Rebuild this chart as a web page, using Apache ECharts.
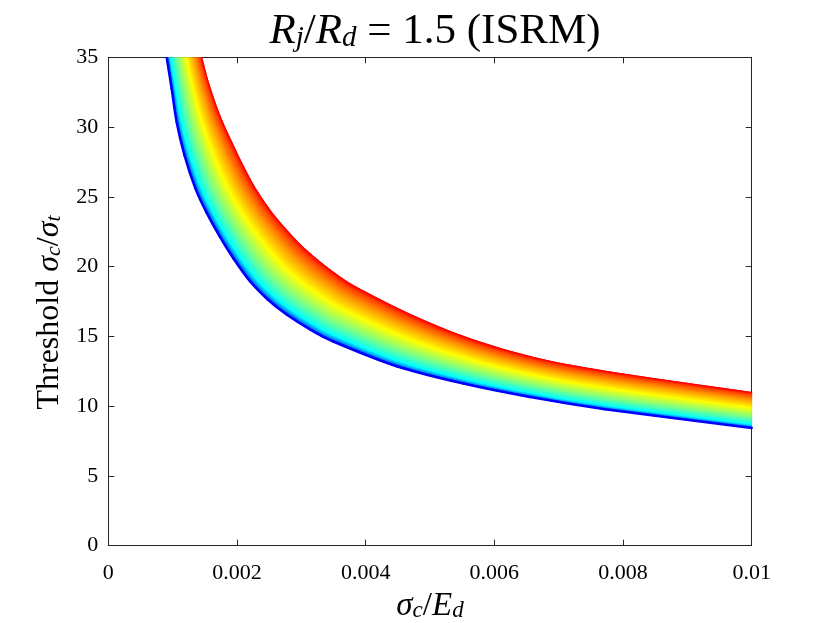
<!DOCTYPE html>
<html>
<head>
<meta charset="utf-8">
<script src="https://cdn.jsdelivr.net/npm/echarts@6/dist/echarts.min.js"></script>
<style>html,body{margin:0;padding:0;background:#fff}#c{width:830px;height:623px}</style>
</head>
<body>
<div id="c"></div>
<script>
// Lower (blue) edge of the family of curves
const lowerX = [0.000908, 0.000985, 0.001063, 0.001184, 0.001355, 0.001526, 0.001736, 0.001943, 0.002202, 0.002482, 0.002777, 0.003135, 0.003497, 0.004482, 0.005518, 0.006554, 0.00772, 0.01];
const lowerY = [35.0, 32.76, 30.36, 27.98, 25.59, 23.89, 22.13, 20.60, 18.95, 17.63, 16.55, 15.50, 14.63, 12.86, 11.62, 10.66, 9.78, 8.44];
// Upper (red) edge, points read across the band opposite the lower ones
const upperX = [0.001452, 0.001557, 0.001728, 0.001924, 0.0021, 0.002272, 0.002521, 0.002751, 0.002967, 0.003147, 0.003342, 0.003561, 0.003847, 0.004747, 0.00567, 0.006663, 0.0078, 0.01];
const upperY = [35.0, 33.17, 30.89, 28.85, 27.18, 25.71, 23.99, 22.72, 21.65, 20.89, 20.14, 19.39, 18.54, 16.46, 14.75, 13.43, 12.45, 10.98];

const xTickLabels = ['0', '0.002', '0.004', '0.006', '0.008', '0.01'];
const yTickLabels = ['0', '5', '10', '15', '20', '25', '30', '35'];

const F = 'Liberation Serif';
const AX = '#262626';
const stops = [
  {offset: 0.00, color: 'rgb(0,0,255)'},
  {offset: 0.035, color: 'rgb(0,128,255)'},
  {offset: 0.10, color: 'rgb(0,255,255)'},
  {offset: 0.31, color: 'rgb(128,255,128)'},
  {offset: 0.56, color: 'rgb(255,255,0)'},
  {offset: 0.79, color: 'rgb(255,150,0)'},
  {offset: 0.93, color: 'rgb(255,70,0)'},
  {offset: 1.00, color: 'rgb(255,0,0)'}
];
const SUB = 10; // drawing subdivisions per segment

const bandData = lowerX.slice(0, -1).map((x, i) => [x, lowerY[i], i]);

function richSet(size, sub) {
  return {
    i: {fontFamily: F, fontStyle: 'italic', fontWeight: 'normal', fontSize: size, lineHeight: size + 6, verticalAlign: 'bottom', color: '#000'},
    n: {fontFamily: F, fontWeight: 'normal', fontSize: size, lineHeight: size + 6, verticalAlign: 'bottom', color: '#000'},
    s: {fontFamily: F, fontStyle: 'italic', fontWeight: 'normal', fontSize: sub, lineHeight: Math.round(size * 0.5), verticalAlign: 'bottom', color: '#000'}
  };
}

// Catmull-Rom control points between p1 and p2
function ctrl(p0, p1, p2, p3) {
  return [
    [p1[0] + (p2[0] - p0[0]) / 6, p1[1] + (p2[1] - p0[1]) / 6],
    [p2[0] - (p3[0] - p1[0]) / 6, p2[1] - (p3[1] - p1[1]) / 6]
  ];
}
function bez(p0, c1, c2, p1, t) {
  const u = 1 - t;
  const a = u * u * u, b = 3 * u * u * t, c = 3 * u * t * t, d = t * t * t;
  return [a * p0[0] + b * c1[0] + c * c2[0] + d * p1[0], a * p0[1] + b * c1[1] + c * c2[1] + d * p1[1]];
}
function f(v) { return v.toFixed(2); }

const chart = echarts.init(document.getElementById('c'), null, {renderer: 'canvas'});
const axisCommon = {
  axisLine: {show: true, onZero: false, lineStyle: {color: AX, width: 1}},
  axisTick: {show: true, inside: true, length: 6, lineStyle: {color: AX, width: 1}},
  splitLine: {show: false}
};
chart.setOption({
  animation: false,
  backgroundColor: '#fff',
  title: {
    text: '{i|R}{s|j}{n|/}{i|R}{s|d}{n| = 1.5 (ISRM)}',
    left: 430, top: -1, textAlign: 'center',
    textStyle: {fontWeight: 'normal', rich: richSet(43, 29)}
  },
  grid: {left: 108.3, right: 78.3, top: 57.3, bottom: 77.3, containLabel: false, outerBoundsMode: 'none'},
  xAxis: [
    Object.assign({}, axisCommon, {
      type: 'value', min: 0, max: 0.01, interval: 0.002, position: 'bottom',
      axisLabel: {color: '#000', fontFamily: F, fontSize: 22, margin: 17,
        formatter: v => xTickLabels[Math.round(v / 0.002)]},
      name: '{i|σ}{s|c}{n|/}{i|E}{s|d}', nameLocation: 'middle', nameGap: 34,
      nameTextStyle: {fontWeight: 'normal', rich: richSet(33, 23)}
    }),
    Object.assign({}, axisCommon, {
      type: 'value', min: 0, max: 0.01, interval: 0.002, position: 'top',
      axisLabel: {show: false}
    })
  ],
  yAxis: [
    Object.assign({}, axisCommon, {
      type: 'value', min: 0, max: 35, interval: 5, position: 'left',
      axisLabel: {color: '#000', fontFamily: F, fontSize: 22, margin: 10,
        formatter: v => yTickLabels[Math.round(v / 5)]},
      name: '{n|Threshold }{i|σ}{s|c}{n|/}{i|σ}{s|t}', nameLocation: 'middle', nameGap: 42, nameRotate: 90,
      nameTextStyle: {fontWeight: 'normal', padding: [0, 22, 0, 0], rich: richSet(32, 22)}
    }),
    Object.assign({}, axisCommon, {
      type: 'value', min: 0, max: 35, interval: 5, position: 'right',
      axisLabel: {show: false}
    })
  ],
  series: [
    {
      type: 'custom',
      clip: true,
      data: bandData,
      z: 2,
      silent: true,
      renderItem: function (params, api) {
        const i = api.value(2);
        const n = lowerX.length;
        const cl = k => Math.max(0, Math.min(n - 1, k));
        const B = k => api.coord([lowerX[cl(k)], lowerY[cl(k)]]);
        const T = k => api.coord([upperX[cl(k)], upperY[cl(k)]]);
        const b0 = B(i), b1 = B(i + 1), t0 = T(i), t1 = T(i + 1);
        const cb = ctrl(B(i - 1), b0, b1, B(i + 2));
        const ct = ctrl(T(i - 1), t0, t1, T(i + 2));
        const children = [];
        for (let k = 0; k < SUB; k++) {
          const ta = k / SUB, tb = (k + 1) / SUB;
          const pa = bez(b0, cb[0], cb[1], b1, ta), pb = bez(b0, cb[0], cb[1], b1, tb);
          const qa = bez(t0, ct[0], ct[1], t1, ta), qb = bez(t0, ct[0], ct[1], t1, tb);
          const bm = [(pa[0] + pb[0]) / 2, (pa[1] + pb[1]) / 2];
          const tm = [(qa[0] + qb[0]) / 2, (qa[1] + qb[1]) / 2];
          let dx = (pb[0] - pa[0]) + (qb[0] - qa[0]);
          let dy = (pb[1] - pa[1]) + (qb[1] - qa[1]);
          const L = Math.hypot(dx, dy) || 1;
          dx /= L; dy /= L;
          let nx = -dy, ny = dx;
          let d = (tm[0] - bm[0]) * nx + (tm[1] - bm[1]) * ny;
          if (d < 0) { nx = -nx; ny = -ny; d = -d; }
          const grad = new echarts.graphic.LinearGradient(bm[0], bm[1], bm[0] + nx * d, bm[1] + ny * d, stops, true);
          children.push({
            type: 'polygon', z2: 1,
            shape: {points: [pa, pb, qb, qa]},
            style: {fill: grad, stroke: grad, lineWidth: 1, lineJoin: 'bevel'}
          });
        }
        const botPath = 'M' + f(b0[0]) + ' ' + f(b0[1]) +
          ' C' + f(cb[0][0]) + ' ' + f(cb[0][1]) + ' ' + f(cb[1][0]) + ' ' + f(cb[1][1]) + ' ' + f(b1[0]) + ' ' + f(b1[1]);
        const topPath = 'M' + f(t0[0]) + ' ' + f(t0[1]) +
          ' C' + f(ct[0][0]) + ' ' + f(ct[0][1]) + ' ' + f(ct[1][0]) + ' ' + f(ct[1][1]) + ' ' + f(t1[0]) + ' ' + f(t1[1]);
        children.push({type: 'path', z2: 10, shape: {pathData: botPath},
          style: {fill: null, stroke: '#0000ff', lineWidth: 2.6, lineCap: 'round'}});
        children.push({type: 'path', z2: 10, shape: {pathData: topPath},
          style: {fill: null, stroke: '#ff0000', lineWidth: 1.2, lineCap: 'round'}});
        return {type: 'group', children: children};
      }
    }
  ]
});
</script>
</body>
</html>
